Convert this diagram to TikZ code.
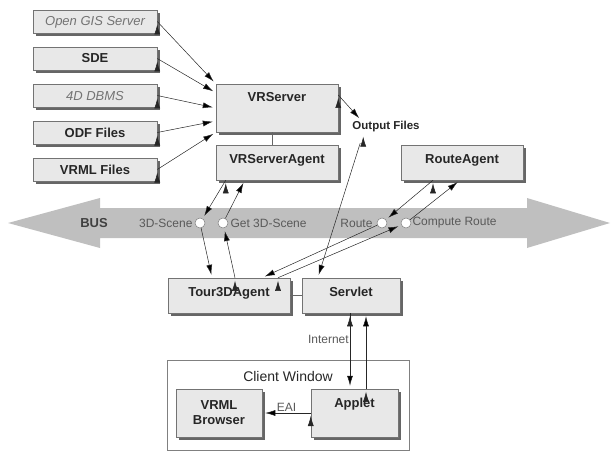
\documentclass[tikz,border=0pt]{standalone}
\usepackage{fontspec}
\setmainfont{Liberation Sans}
\usetikzlibrary{arrows.meta,positioning,shadows}

\begin{document}
\begin{tikzpicture}[x=1pt,y=-1pt,line width=0.5pt,
    >={Latex[length=10pt,width=6pt]},
    box/.style={draw=black!55,fill=black!9,text=black!85,inner sep=0pt,
        font=\fontsize{13}{15}\selectfont\bfseries,
        minimum width=122pt,text height=18pt,text depth=17pt,
        drop shadow={shadow xshift=3pt,shadow yshift=-3pt,fill=black!60,opacity=1}},
    src/.style={box,minimum width=124pt,text height=16pt,text depth=7pt},
    srcdim/.style={src,font=\fontsize{13}{15}\selectfont\itshape,text=black!55},
    port/.style={draw=black!50,fill=white,circle,inner sep=0pt,minimum size=10pt},
    tag/.style={font=\fontsize{12}{14}\selectfont,text=black!65,inner sep=1pt},
    conn/.style={->,draw=black!85,shorten >=3pt}]

    \useasboundingbox (0,0) rectangle (611,452);

    \fill[black!25] (8,223) -- (100,198) -- (100,208) -- (527,208) -- (527,198)
        -- (610,223) -- (527,248) -- (527,238) -- (100,238) -- (100,248) -- cycle;
    \node [font=\fontsize{13}{15}\selectfont\bfseries,text=black!75] (bus) at (94,223) {BUS};

    \node [srcdim] (opengis) at (95,21.5) {Open GIS Server};
    \node [src] (sde) at (95,58.5) {SDE};
    \node [srcdim] (dbms) at (95,95.5) {4D DBMS};
    \node [src] (odf) at (95,132.5) {ODF Files};
    \node [src] (vrmlfiles) at (95,169.5) {VRML Files};

    \node [box,text depth=30pt] (vrserver) at (277,108) {VRServer};
    \node [box] (vrsa) at (277,162.5) {VRServerAgent};
    \node [box] (routeagent) at (462,162.5) {RouteAgent};
    \node [box] (tour) at (229,295.5) {Tour3DAgent};
    \node [box,minimum width=98pt] (servlet) at (351,295.5) {Servlet};

    \node [font=\fontsize{11.5}{13}\selectfont\bfseries,text=black!85,inner sep=1pt] (outfiles) at (386,127) {Output Files};

    \node [port] (scene) at (200,223) {};
    \node [port] (getscene) at (223,223) {};
    \node [port] (route) at (382,223) {};
    \node [port] (compute) at (406,223) {};
    \node [tag,left=1pt of scene] (scenetag) {3D-Scene};
    \node [tag,right=1pt of getscene] (getscenetag) {Get 3D-Scene};
    \node [tag,left=3pt of route] (routetag) {Route};
    \node [tag,right=0pt of compute] (computetag) {Compute Route};

    \node [draw=black!50,inner sep=0pt,minimum width=242pt,text height=21pt,text depth=69pt,
        font=\fontsize{14}{16}\selectfont,text=black!85] (client) at (288,405) {Client Window};
    \node [box,minimum width=86pt,minimum height=48pt,text height=,text depth=,align=center] (browser) at (219,413) {VRML\\Browser};
    \node [box,minimum width=87pt,text depth=30pt] (applet) at (354.5,413) {Applet};

    \path[conn] (opengis.east) edge (vrserver.north west);
    \path[conn] (sde.east) edge (vrserver.166);
    \path[conn] (dbms.east) edge (vrserver.west);
    \path[conn] (odf.east) edge (vrserver.192);
    \path[conn] (vrmlfiles.east) edge (vrserver.south west);

    \draw[black!60] ([xshift=-5pt]vrserver.south) -- ([xshift=-5pt]vrsa.north);
    \draw[black!60] (tour.east) -- (servlet.west);

    \path[conn] (vrserver.12) edge ([xshift=10pt]outfiles.north west);
    \path[conn,shorten <=10pt] ([xshift=12pt]outfiles.south west) edge ([xshift=16pt]servlet.north west);

    \path[conn] ([xshift=10pt]vrsa.south west) edge (scene);
    \path[conn] (getscene) edge ([xshift=29pt]vrsa.south west);
    \path[conn] (scene) edge ([xshift=-17pt]tour.north);
    \path[conn] ([xshift=6pt]tour.north) edge (getscene);

    \path[conn] ([xshift=-29pt]routeagent.south) edge (route);
    \path[conn] (compute) edge ([xshift=-2pt]routeagent.south);
    \path[conn] (route) edge ([xshift=33pt]tour.north);
    \path[conn] ([xshift=49pt]tour.north) edge (compute);

    \path[conn] ([xshift=-1pt]servlet.south) edge node[tag,left,pos=0.35] (internet) {Internet} ([xshift=-4.5pt]applet.north);
    \path[conn] ([xshift=11.5pt]applet.north) edge ([xshift=15pt]servlet.south);
    \path[conn] (applet.west) edge node[tag,above] (eai) {EAI} (browser.east);

\end{tikzpicture}
\end{document}
